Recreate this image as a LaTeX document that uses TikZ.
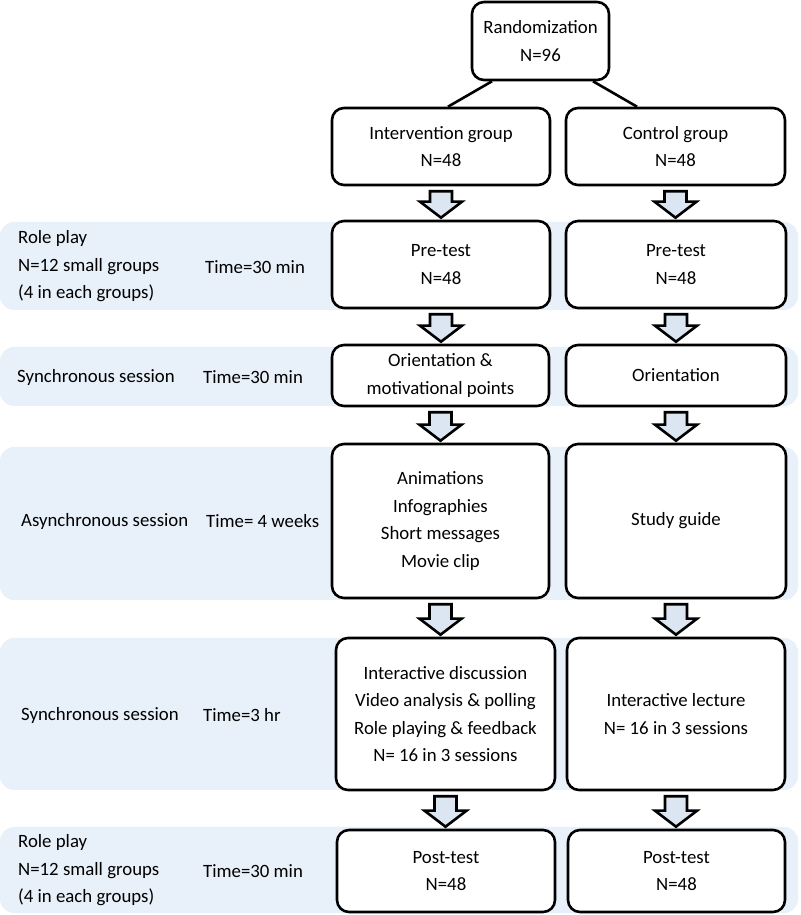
\documentclass[tikz,border=0pt]{standalone}
\usepackage{fontspec}
\setmainfont{Carlito}
\usetikzlibrary{calc}
\definecolor{bandblue}{HTML}{E8F0F9}
\definecolor{arrowblue}{HTML}{DCE6F2}
\tikzset{
  txt/.style={font=\fontsize{18.8}{27.5}\selectfont},
  box/.style={txt, draw=black, line width=2.6pt, rounded corners=12pt, fill=white, align=center, inner sep=0pt},
  band/.style={fill=bandblue, rounded corners=14pt},
  lbl/.style={txt, anchor=west, align=left, inner sep=0pt},
  blk/.style={draw=black, line width=2.6pt, fill=arrowblue, line join=miter},
  conn/.style={draw=black, line width=2.6pt}
}
\newcommand\blkarrow[2]{%
  \draw[blk] let \p1=(#1.south), \p2=(#2.north) in
    (\x1-11pt,\y1-5pt) -- (\x1+11pt,\y1-5pt) -- (\x1+11pt,\y2+18pt) -- (\x1+21pt,\y2+18pt)
    -- (\x1,\y2+2pt) -- (\x1-21pt,\y2+18pt) -- (\x1-11pt,\y2+18pt) -- cycle;}
\begin{document}
\begin{tikzpicture}[x=1pt,y=1pt]
\useasboundingbox (0,0) rectangle (800,915);
% bands
\fill[band] (0,605) rectangle (798,693);
\fill[band] (0,509) rectangle (798,568);
\fill[band] (0,315) rectangle (798,468);
\fill[band] (0,125) rectangle (798,277);
\fill[band] (0,2) rectangle (798,88);
% top
\node[box, minimum width=137pt, minimum height=78pt] (rand) at (540.5,874) {Randomization\\N=96};
\node[box, minimum width=218pt, minimum height=77pt] (int) at (441,768.5) {Intervention group\\N=48};
\node[box, minimum width=219pt, minimum height=77pt] (ctl) at (675.5,768.5) {Control group\\N=48};
\draw[conn] ([xshift=-48.5pt]rand.south) -- ([xshift=7pt]int.north);
\draw[conn] ([xshift=52.5pt]rand.south) -- ([xshift=-38.5pt]ctl.north);
% row 1
\node[box, minimum width=218pt, minimum height=87pt] (pre1) at (441,650.5) {Pre-test\\N=48};
\node[box, minimum width=220pt, minimum height=87pt] (pre2) at (676,650.5) {Pre-test\\N=48};
% row 2
\node[box, minimum width=217pt, minimum height=61pt] (or1) at (440.5,539.5) {Orientation \&\\motivational points};
\node[box, minimum width=220pt, minimum height=61pt] (or2) at (676,539.5) {Orientation};
% row 3
\node[box, minimum width=217pt, minimum height=154pt] (as1) at (440.5,394) {Animations\\Infographies\\Short messages\\Movie clip};
\node[box, minimum width=220pt, minimum height=154pt] (as2) at (676,394) {Study guide};
% row 4
\node[box, minimum width=219pt, minimum height=152pt] (sy1) at (445.5,201) {Interactive discussion\\Video analysis \& polling\\Role playing \& feedback\\N= 16 in 3 sessions};
\node[box, minimum width=218pt, minimum height=152pt] (sy2) at (676,201) {Interactive lecture\\N= 16 in 3 sessions};
% row 5
\node[box, minimum width=218pt, minimum height=82pt] (po1) at (446,44) {Post-test\\N=48};
\node[box, minimum width=217pt, minimum height=82pt] (po2) at (676.5,44) {Post-test\\N=48};
% arrows
\blkarrow{int}{pre1}
\blkarrow{ctl}{pre2}
\blkarrow{pre1}{or1}
\blkarrow{pre2}{or2}
\blkarrow{or1}{as1}
\blkarrow{or2}{as2}
\blkarrow{as1}{sy1}
\blkarrow{as2}{sy2}
\blkarrow{sy1}{po1}
\blkarrow{sy2}{po2}
% left labels
\node[lbl] (l1a) at (18,648.5) {Role play\\N=12 small groups\\(4 in each groups)};
\node[lbl] (l1b) at (205,648) {Time=30 min};
\node[lbl] (l2a) at (17,538) {Synchronous session};
\node[lbl] (l2b) at (203,538) {Time=30 min};
\node[lbl] (l3a) at (21,394) {Asynchronous session};
\node[lbl] (l3b) at (206,394) {Time= 4 weeks};
\node[lbl] (l4a) at (21,200) {Synchronous session};
\node[lbl] (l4b) at (203,200) {Time=3 hr};
\node[lbl] (l5a) at (18,44.5) {Role play\\N=12 small groups\\(4 in each groups)};
\node[lbl] (l5b) at (203,44) {Time=30 min};
\end{tikzpicture}
\end{document}
